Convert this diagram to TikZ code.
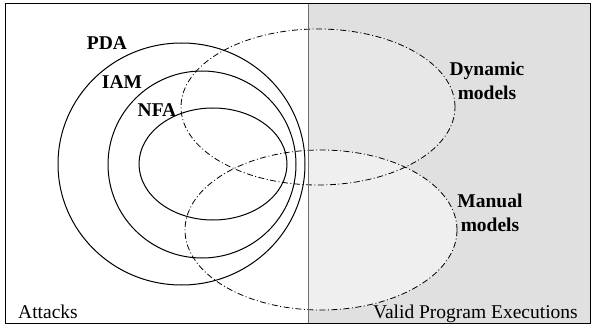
\documentclass[tikz,border=0pt]{standalone}
\usepackage{fontspec}
\setmainfont{Liberation Serif}
\definecolor{execgray}{RGB}{224,224,224}
\definecolor{dyngray}{RGB}{231,231,231}
\definecolor{mangray}{RGB}{239,239,239}
\definecolor{divgray}{RGB}{110,110,110}

\begin{document}
\begin{tikzpicture}[
    x=1pt, y=-1pt,
    every node/.style={font=\fontsize{19.5}{24}\selectfont, inner sep=0pt},
    set/.style={line width=1pt},
    model/.style={line width=0.8pt, dash pattern=on 6pt off 2.5pt on 1pt off 2.5pt},
    setlabel/.style={font=\fontsize{19.5}{24}\selectfont\bfseries, align=center}
]
    \useasboundingbox (0,0) rectangle (592,326);

    % Valid program executions side
    \fill[execgray] (308,3) rectangle (590,323);
    \begin{scope}
        \clip (308,3) rectangle (590,323);
        \fill[dyngray] (318,107) ellipse [x radius=137pt, y radius=78pt];
        \fill[mangray] (321,230) ellipse [x radius=136pt, y radius=80pt];
    \end{scope}

    % Automaton models
    \draw[set] (181.5,164) ellipse [x radius=123.5pt, y radius=121pt];
    \draw[set] (202,164.5) ellipse [x radius=94pt, y radius=93.5pt];
    \draw[set] (213,164) ellipse [x radius=74pt, y radius=56pt];

    % Dynamic and manual models
    \draw[model] (318,107) ellipse [x radius=137pt, y radius=78pt];
    \draw[model] (321,230) ellipse [x radius=136pt, y radius=80pt];

    % Frame
    \draw[divgray, line width=1pt] (308,3) -- (308,323);
    \draw[line width=0.8pt] (5,3) rectangle (590,323);

    % Labels
    \node (pda) [setlabel] at (107,43) {PDA};
    \node (iam) [setlabel] at (122,82) {IAM};
    \node (nfa) [setlabel] at (157,110) {NFA};
    \node (dyn) [setlabel] at (487,81) {Dynamic\\models};
    \node (man) [setlabel] at (490,213) {Manual\\models};
    \node (attacks) [anchor=base west] at (18,318) {Attacks};
    \node (valid) [anchor=base east] at (578,318) {Valid Program Executions};
\end{tikzpicture}
\end{document}
